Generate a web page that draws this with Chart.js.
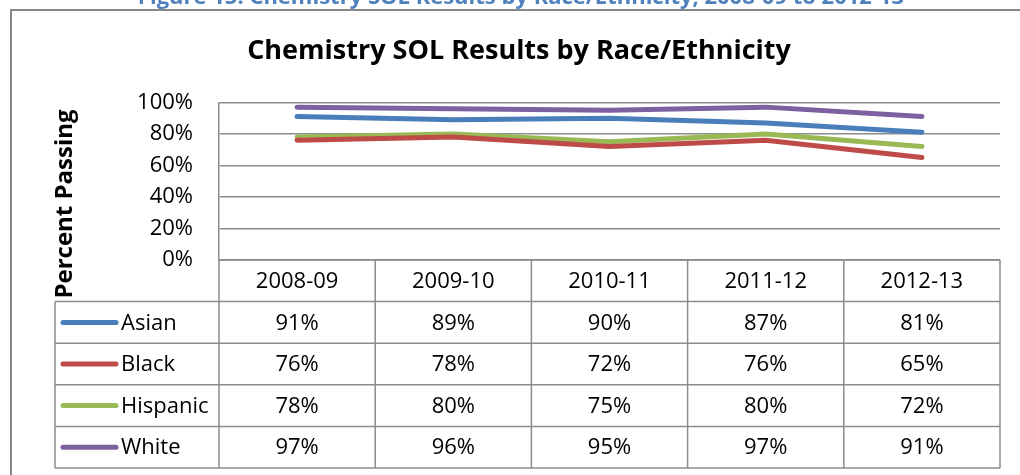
<!DOCTYPE html>
<html>
<head>
<meta charset="utf-8">
<script src="https://cdn.jsdelivr.net/npm/chart.js@4.4.0/dist/chart.umd.min.js"></script>
<style>
  html, body { margin: 0; padding: 0; background: #fff; }
  #wrap { width: 1020px; height: 475px; position: relative; }
</style>
</head>
<body>
<div id="wrap"><canvas id="solChart" width="1020" height="475"></canvas></div>
<script>
// Data
const years = ['2008-09', '2009-10', '2010-11', '2011-12', '2012-13'];
const asian = [0.91, 0.89, 0.90, 0.87, 0.81];
const black = [0.76, 0.78, 0.72, 0.76, 0.65];
const hispanic = [0.78, 0.80, 0.75, 0.80, 0.72];
const white = [0.97, 0.96, 0.95, 0.97, 0.91];
const groupNames = ['Asian', 'Black', 'Hispanic', 'White'];
const groupColors = ['#4a7ebb', '#be4b48', '#98b954', '#7d60a0'];
const yTicks = [0, 0.2, 0.4, 0.6, 0.8, 1];

const FONT = '"Open Sans", "DejaVu Sans", sans-serif';
const LINE_GRAY = '#8c8c8c';

const pct = v => Math.round(v * 100) + '%';

// Excel-style data table under the plot, plus frame, caption and axis title
const tablePlugin = {
  id: 'dataTable',
  afterDraw(chart) {
    const { ctx, chartArea } = chart;
    const x = chart.scales.x;
    const colW = x.width / years.length;
    const rowH = 41.6;
    const top = chartArea.bottom;
    const legendLeft = 55;
    const nRows = chart.data.datasets.length + 1;
    const bottom = top + rowH * nRows;

    ctx.save();

    // grid of the table
    ctx.strokeStyle = LINE_GRAY;
    ctx.lineWidth = 1.5;
    ctx.beginPath();
    ctx.moveTo(chartArea.left, top);
    ctx.lineTo(chartArea.right, top);
    for (let r = 1; r <= nRows; r++) {
      ctx.moveTo(legendLeft, top + r * rowH);
      ctx.lineTo(chartArea.right, top + r * rowH);
    }
    for (let c = 0; c <= years.length; c++) {
      const cx = chartArea.left + c * colW;
      ctx.moveTo(cx, top);
      ctx.lineTo(cx, bottom);
    }
    ctx.moveTo(legendLeft, top + rowH);
    ctx.lineTo(legendLeft, bottom);
    ctx.stroke();

    // header row
    ctx.fillStyle = '#000';
    ctx.font = '22px ' + FONT;
    ctx.textAlign = 'center';
    ctx.textBaseline = 'middle';
    years.forEach((yr, i) => {
      ctx.fillText(yr, x.getPixelForValue(i), top + rowH / 2 + 1);
    });

    // series rows
    chart.data.datasets.forEach((ds, r) => {
      const cy = top + rowH * (r + 1) + rowH / 2;
      ctx.strokeStyle = ds.borderColor;
      ctx.lineWidth = 5;
      ctx.lineCap = 'round';
      ctx.beginPath();
      ctx.moveTo(63, cy);
      ctx.lineTo(116, cy);
      ctx.stroke();

      ctx.fillStyle = '#000';
      ctx.textAlign = 'left';
      ctx.fillText(ds.label, 121, cy + 1);
      ctx.textAlign = 'center';
      ds.data.forEach((v, i) => {
        ctx.fillText(pct(v), x.getPixelForValue(i), cy + 1);
      });
    });

    // y axis title
    ctx.save();
    ctx.translate(65, 204);
    ctx.rotate(-Math.PI / 2);
    ctx.font = 'bold 24px ' + FONT;
    ctx.textAlign = 'center';
    ctx.textBaseline = 'middle';
    ctx.fillStyle = '#000';
    ctx.fillText('Percent Passing', 0, 0);
    ctx.restore();

    // chart frame (runs off the picture on the right and bottom)
    ctx.strokeStyle = '#878787';
    ctx.lineWidth = 2;
    ctx.strokeRect(11, 10, 1100, 600);

    // document caption, cut off by the top edge
    ctx.fillStyle = '#4f81bd';
    ctx.font = 'bold 22px ' + FONT;
    ctx.textAlign = 'center';
    ctx.textBaseline = 'alphabetic';
    ctx.fillText('Figure 15: Chemistry SOL Results by Race/Ethnicity, 2008-09 to 2012-13', 521, 4);

    ctx.restore();
  }
};

const seriesValues = [asian, black, hispanic, white];

new Chart(document.getElementById('solChart'), {
  type: 'line',
  data: {
    labels: years,
    datasets: seriesValues.map((vals, i) => ({
      label: groupNames[i],
      data: vals,
      borderColor: groupColors[i],
      backgroundColor: groupColors[i],
      borderWidth: 5,
      borderCapStyle: 'round',
      borderJoinStyle: 'round',
      pointRadius: 0,
      tension: 0,
      fill: false
    }))
  },
  options: {
    responsive: false,
    animation: false,
    events: [],
    layout: { padding: { left: 38, right: 20, top: 0, bottom: 0 } },
    plugins: {
      legend: { display: false },
      tooltip: { enabled: false },
      title: {
        display: true,
        text: 'Chemistry SOL Results by Race/Ethnicity',
        color: '#000',
        font: { family: FONT, size: 27, weight: 'bold' },
        padding: { top: 35, bottom: 35 }
      }
    },
    scales: {
      x: {
        offset: true,
        grid: { display: false },
        border: { display: false },
        ticks: { display: false },
        afterFit: s => { s.height = 215; }
      },
      y: {
        min: 0,
        max: 1,
        afterFit: s => { s.width = 181; },
        afterBuildTicks: s => { s.ticks = yTicks.map(v => ({ value: v })); },
        ticks: {
          color: '#000',
          padding: 26,
          font: { family: FONT, size: 22 },
          callback: v => pct(v)
        },
        grid: { color: LINE_GRAY, lineWidth: 1.5, drawTicks: false },
        border: { display: true, color: LINE_GRAY, width: 1.5 }
      }
    }
  },
  plugins: [tablePlugin]
});
</script>
</body>
</html>
